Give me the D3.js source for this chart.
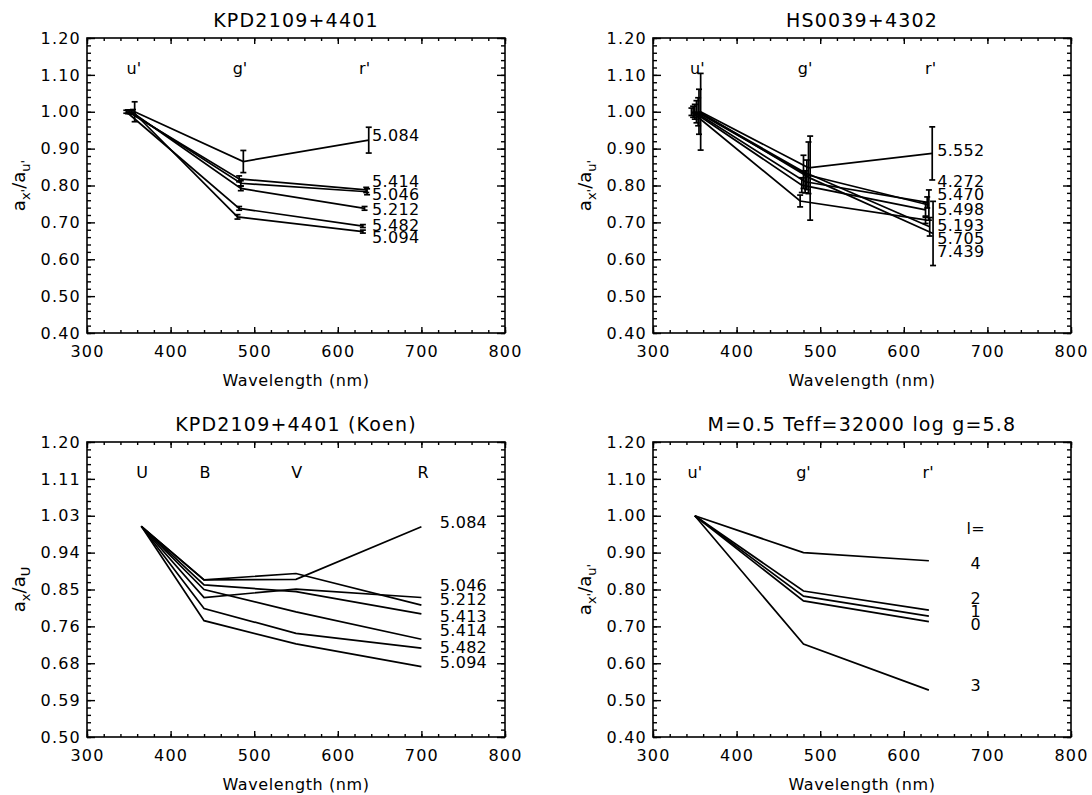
<!DOCTYPE html>
<html>
<head>
<meta charset="utf-8">
<script src="https://d3js.org/d3.v7.min.js"></script>
<style>
  body { margin: 0; background: #fff; }
  text { font-family: "DejaVu Sans", "Liberation Sans", Arial, sans-serif; fill: #000; }
</style>
</head>
<body>
<svg width="1092" height="795"></svg>
<script>
// ---- shared axis values
var xTicks = [300, 400, 500, 600, 700, 800];
var yTicks = [0.40, 0.50, 0.60, 0.70, 0.80, 0.90, 1.00, 1.10, 1.20];
var yTickLabels = ["0.40", "0.50", "0.60", "0.70", "0.80", "0.90", "1.00", "1.10", "1.20"];
var yTicksKoen = [0.5, 0.5875, 0.675, 0.7625, 0.85, 0.9375, 1.025, 1.1125, 1.2];
var yTickLabelsKoen = ["0.50", "0.59", "0.68", "0.76", "0.85", "0.94", "1.03", "1.11", "1.20"];

// ---- panel 1: KPD2109+4401
var p1Bands = ["u'", "g'", "r'"];
var p1BandX = [356, 483, 632];
var p1Names = ["5.084", "5.414", "5.046", "5.212", "5.482", "5.094"];
var p1X = [[357, 487, 637], [349, 482, 634], [351, 484, 635], [353, 484, 632], [347, 482, 630], [355, 480, 630]];
var p1Y = [[1, 0.865, 0.923], [1, 0.818, 0.788], [1, 0.806, 0.783], [1, 0.792, 0.738], [1, 0.738, 0.690], [1, 0.715, 0.675]];
var p1Err = [[0.027, 0.03, 0.035], [0.005, 0.008, 0.007], [0.005, 0.007, 0.008], [0.004, 0.006, 0.005], [0.004, 0.005, 0.004], [0.006, 0.006, 0.004]];
var p1LabelY = [0.937, 0.812, 0.777, 0.736, 0.693, 0.660];

// ---- panel 2: HS0039+4302
var p2Bands = ["u'", "g'", "r'"];
var p2BandX = [353, 482, 632];
var p2Names = ["5.552", "4.272", "5.470", "5.498", "5.193", "5.705", "7.439"];
var p2X = [[357, 486, 634], [350, 482, 628], [352, 484, 630], [348, 478, 626], [346, 476, 626], [354, 480, 631], [355, 488, 635]];
var p2Y = [[1, 0.848, 0.887], [1, 0.810, 0.754], [1, 0.829, 0.747], [1, 0.801, 0.734], [1, 0.758, 0.707], [1, 0.837, 0.688], [1, 0.820, 0.670]];
var p2Err = [[0.104, 0.07, 0.072], [0.02, 0.03, 0.015], [0.03, 0.04, 0.041], [0.015, 0.02, 0.02], [0.01, 0.016, 0.01], [0.038, 0.045, 0.025], [0.061, 0.114, 0.087]];
var p2LabelY = [0.896, 0.812, 0.777, 0.736, 0.693, 0.658, 0.622];

// ---- panel 3: KPD2109+4401 (Koen)
var p3Bands = ["U", "B", "V", "R"];
var p3BandX = [366, 441, 551, 702];
var p3X = [365, 440, 550, 700];
var p3Names = ["5.084", "5.212", "5.413", "5.414", "5.046", "5.482", "5.094"];
var p3Y = [[1, 0.873, 0.874, 0.999], [1, 0.873, 0.888, 0.813], [1, 0.861, 0.845, 0.792], [1, 0.850, 0.797, 0.732],
           [1, 0.831, 0.851, 0.831], [1, 0.805, 0.746, 0.711], [1, 0.776, 0.721, 0.667]];
var p3LabelY = [1.010, 0.827, 0.787, 0.754, 0.861, 0.714, 0.678];

// ---- panel 4: model M=0.5 Teff=32000 log g=5.8
var p4Bands = ["u'", "g'", "r'"];
var p4BandX = [350, 480, 629];
var p4X = [350, 480, 630];
var p4Names = ["4", "2", "1", "0", "3"];
var p4Y = [[1, 0.900, 0.878], [1, 0.796, 0.744], [1, 0.782, 0.728], [1, 0.769, 0.713], [1, 0.652, 0.527]];
var p4LabelY = [0.872, 0.777, 0.742, 0.706, 0.541];

var svg = d3.select("svg");
var PW = 418, PH = 295;

function drawPanel(c) {
  var g = svg.append("g").attr("transform", "translate(" + c.left + "," + c.top + ")");
  var x = d3.scaleLinear().domain([300, 800]).range([0, PW]);
  var y = d3.scaleLinear().domain(c.yDomain).range([PH, 0]);

  // minor ticks
  var xMinor = d3.range(300, 801, 20);
  var yMinor = d3.range(0, 41).map(function(i) { return c.yDomain[0] + i * c.yMinorStep; })
                 .filter(function(v) { return v <= c.yDomain[1] + 1e-9; });
  g.append("g").attr("transform", "translate(0," + PH + ")")
    .call(d3.axisBottom(x).tickValues(xMinor).tickSize(-3).tickFormat(""));
  g.append("g").call(d3.axisTop(x).tickValues(xMinor).tickSize(-3).tickFormat(""));
  g.append("g").call(d3.axisLeft(y).tickValues(yMinor).tickSize(-4).tickFormat(""));
  g.append("g").attr("transform", "translate(" + PW + ",0)")
    .call(d3.axisRight(y).tickValues(yMinor).tickSize(-4).tickFormat(""));

  // major ticks
  g.append("g").attr("transform", "translate(0," + PH + ")")
    .call(d3.axisBottom(x).tickValues(xTicks).tickSize(-6).tickPadding(13).tickFormat(d3.format("d")));
  g.append("g").call(d3.axisTop(x).tickValues(xTicks).tickSize(-6).tickFormat(""));
  g.append("g")
    .call(d3.axisLeft(y).tickValues(c.yTicks).tickSize(-8).tickPadding(6)
      .tickFormat(function(d, i) { return c.yLabels[i]; }));
  g.append("g").attr("transform", "translate(" + PW + ",0)")
    .call(d3.axisRight(y).tickValues(c.yTicks).tickSize(-8).tickFormat(""));

  g.selectAll(".domain").remove();
  g.selectAll(".tick line").attr("stroke", "#000").attr("stroke-width", 1.4);
  g.selectAll(".tick text").attr("font-size", 16).attr("letter-spacing", 1.2)
    .attr("font-family", "DejaVu Sans, Liberation Sans, Arial, sans-serif").attr("fill", "#000");

  g.append("rect").attr("width", PW).attr("height", PH)
    .attr("fill", "none").attr("stroke", "#000").attr("stroke-width", 1.6);

  // titles
  g.append("text").attr("x", PW / 2).attr("y", -11).attr("text-anchor", "middle")
    .attr("font-size", 19).attr("letter-spacing", 1.2).text(c.title);
  g.append("text").attr("x", PW / 2).attr("y", PH + 53).attr("text-anchor", "middle")
    .attr("font-size", 16).attr("letter-spacing", 0.6).text("Wavelength (nm)");

  var yt = g.append("text").attr("transform", "translate(-62," + (PH / 2) + ") rotate(-90)")
    .attr("text-anchor", "middle").attr("font-size", 18);
  yt.append("tspan").text("a");
  yt.append("tspan").attr("dy", 5).attr("font-size", 13).text(c.sub1);
  yt.append("tspan").attr("dy", -5).text("/a");
  yt.append("tspan").attr("dy", 5).attr("font-size", 13).text(c.sub2);

  // band labels
  g.selectAll(".band").data(c.bands).enter().append("text")
    .attr("x", function(d, i) { return x(c.bandX[i]); })
    .attr("y", 36).attr("text-anchor", "middle").attr("font-size", 16)
    .text(function(d) { return d; });

  var line = d3.line().x(function(d) { return x(d[0]); }).y(function(d) { return y(d[1]); });

  c.series.forEach(function(s) {
    var pts = s.xs.map(function(xv, i) { return [xv, s.ys[i]]; });
    g.append("path").attr("d", line(pts)).attr("fill", "none")
      .attr("stroke", "#000").attr("stroke-width", 1.7).attr("stroke-linejoin", "miter");
    if (s.err) {
      pts.forEach(function(p, i) {
        var e = s.err[i], cx = x(p[0]);
        var y0 = y(p[1] - e), y1 = y(p[1] + e);
        g.append("line").attr("x1", cx).attr("x2", cx).attr("y1", y0).attr("y2", y1)
          .attr("stroke", "#000").attr("stroke-width", 1.7);
        [y0, y1].forEach(function(yy) {
          g.append("line").attr("x1", cx - 3).attr("x2", cx + 3).attr("y1", yy).attr("y2", yy)
            .attr("stroke", "#000").attr("stroke-width", 1.7);
        });
      });
    }
  });

  c.labels.forEach(function(l) {
    g.append("text").attr("x", x(l.x)).attr("y", y(l.y)).attr("dy", "0.36em")
      .attr("text-anchor", l.anchor || "start").attr("font-size", 16).attr("letter-spacing", 0.3)
      .text(l.text);
  });
}

// panel 1
drawPanel({
  left: 87, top: 38, title: "KPD2109+4401", yDomain: [0.4, 1.2], yTicks: yTicks, yLabels: yTickLabels,
  yMinorStep: 0.02, sub1: "x'", sub2: "u'", bands: p1Bands, bandX: p1BandX,
  series: p1Names.map(function(n, i) { return { xs: p1X[i], ys: p1Y[i], err: p1Err[i] }; }),
  labels: p1Names.map(function(n, i) { return { text: n, x: 641, y: p1LabelY[i] }; })
});

// panel 2
drawPanel({
  left: 653, top: 38, title: "HS0039+4302", yDomain: [0.4, 1.2], yTicks: yTicks, yLabels: yTickLabels,
  yMinorStep: 0.02, sub1: "x'", sub2: "u'", bands: p2Bands, bandX: p2BandX,
  series: p2Names.map(function(n, i) { return { xs: p2X[i], ys: p2Y[i], err: p2Err[i] }; }),
  labels: p2Names.map(function(n, i) { return { text: n, x: 640, y: p2LabelY[i] }; })
});

// panel 3
drawPanel({
  left: 87, top: 442, title: "KPD2109+4401  (Koen)", yDomain: [0.5, 1.2], yTicks: yTicksKoen, yLabels: yTickLabelsKoen,
  yMinorStep: 0.0175, sub1: "x", sub2: "U", bands: p3Bands, bandX: p3BandX,
  series: p3Names.map(function(n, i) { return { xs: p3X, ys: p3Y[i] }; }),
  labels: p3Names.map(function(n, i) { return { text: n, x: 722, y: p3LabelY[i] }; })
});

// panel 4
drawPanel({
  left: 653, top: 442, title: "M=0.5 Teff=32000 log g=5.8", yDomain: [0.4, 1.2], yTicks: yTicks, yLabels: yTickLabels,
  yMinorStep: 0.02, sub1: "x'", sub2: "u'", bands: p4Bands, bandX: p4BandX,
  series: p4Names.map(function(n, i) { return { xs: p4X, ys: p4Y[i] }; }),
  labels: [{ text: "l=", x: 686, y: 0.967, anchor: "middle" }].concat(
    p4Names.map(function(n, i) { return { text: n, x: 686, y: p4LabelY[i], anchor: "middle" }; }))
});
</script>
</body>
</html>
